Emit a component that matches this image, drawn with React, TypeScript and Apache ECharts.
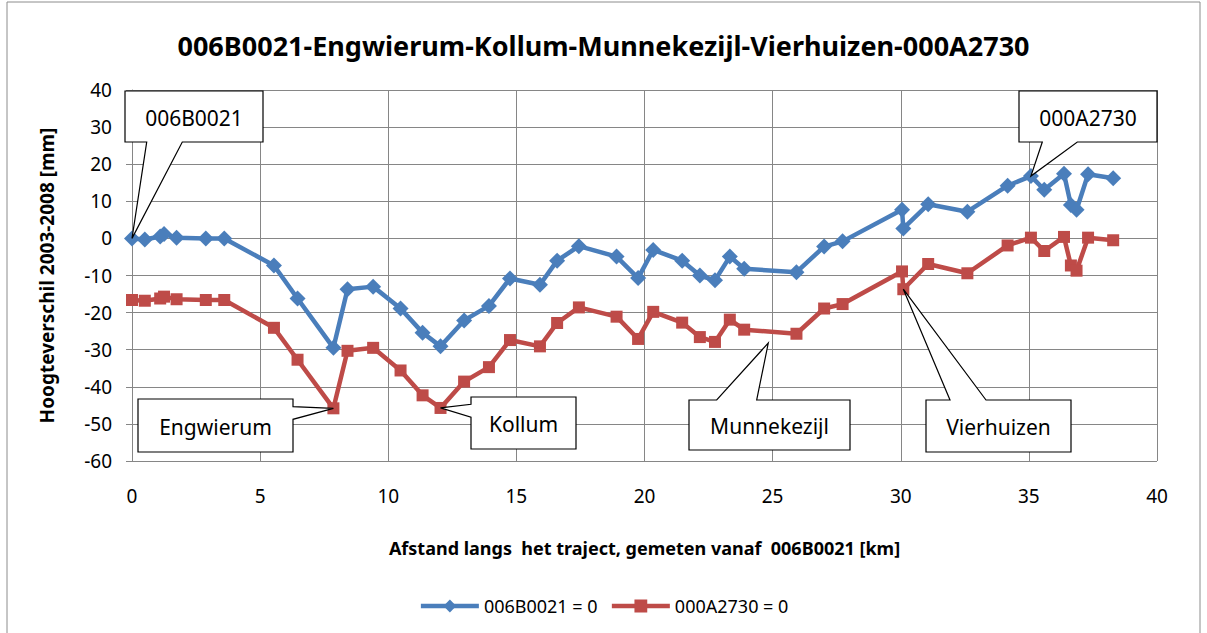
import React, { useEffect, useRef } from "react";
import * as echarts from "echarts";

// Distance along the route [km]
const distanceKm = [
  0, 0.5, 1.1, 1.25, 1.74, 2.88, 3.6, 5.54, 6.46, 7.86, 8.41, 9.41, 10.48, 11.34,
  12.04, 12.96, 13.93, 14.75, 15.92, 16.59, 17.44, 18.91, 19.75, 20.34, 21.47,
  22.16, 22.75, 23.33, 23.89, 25.93, 27.01, 27.73, 30.05, 30.1, 31.07, 32.6,
  34.17, 35.08, 35.6, 36.37, 36.64, 36.86, 37.31, 38.29,
];

// Height difference 2003-2008 [mm], referenced to 006B0021 = 0
const values006B0021 = [
  0, -0.3, 0.5, 1.2, 0.2, 0, 0, -7.3, -16.2, -29.5, -13.7, -13, -18.9, -25.4,
  -29.1, -22.1, -18.2, -10.8, -12.5, -6, -2.1, -4.9, -10.7, -3.1, -6, -10,
  -11.3, -4.9, -8.2, -9.1, -2.2, -0.8, 7.7, 2.7, 9.2, 7.2, 14.2, 16.8, 13.1,
  17.4, 9, 7.7, 17.3, 16.2,
];

// Height difference 2003-2008 [mm], referenced to 000A2730 = 0
const values000A2730 = [
  -16.6, -16.8, -16.2, -15.7, -16.4, -16.6, -16.6, -24.1, -32.7, -45.8, -30.3,
  -29.5, -35.6, -42.3, -45.7, -38.6, -34.7, -27.4, -29.1, -22.8, -18.6, -21.1,
  -27.1, -19.8, -22.7, -26.6, -27.9, -21.9, -24.6, -25.7, -18.9, -17.7, -8.9,
  -13.7, -6.9, -9.4, -1.9, 0.2, -3.4, 0.4, -7.3, -8.7, 0.2, -0.5,
];

const seriesNames = ["006B0021 = 0", "000A2730 = 0"];
const titleText = "006B0021-Engwierum-Kollum-Munnekezijl-Vierhuizen-000A2730";
const xAxisName = "Afstand langs  het traject, gemeten vanaf  006B0021 [km]";
const yAxisName = "Hoogteverschil 2003-2008 [mm]";

// Callout labels: text, anchor point (data coords), box and pointer side
const callouts = [
  { text: "006B0021", at: [0, 0], box: [125, 91, 138, 51], side: "bottom", base: [182.3, 146.7] },
  { text: "Engwierum", at: [7.86, -45.8], box: [138, 399, 155, 53], side: "right", base: [406.7, 419.3] },
  { text: "Kollum", at: [12.04, -45.7], box: [471, 397, 105, 52], side: "left", base: [417.3, 404.3] },
  { text: "Munnekezijl", at: [24.83, -28.2], box: [689, 400, 161, 50], side: "top", base: [716.7, 756.7] },
  { text: "Vierhuizen", at: [30.1, -13.7], box: [926, 400, 145, 52], side: "top", base: [950, 986] },
  { text: "000A2730", at: [35.08, 16.8], box: [1019, 91, 138, 51], side: "bottom", base: [1077.3, 1042.3] },
];

const FONT = "'Noto Sans', 'Open Sans', sans-serif";
const BLUE = "#4a7ebb";
const RED = "#be4b48";
const GRID = "#868686";

export default function App() {
  const ref = useRef<HTMLDivElement>(null);

  useEffect(() => {
    const chart = echarts.init(ref.current!, null, { renderer: "svg" });
    const blue = distanceKm.map((x, i) => [x, values006B0021[i]]);
    const red = distanceKm.map((x, i) => [x, values000A2730[i]]);

    chart.setOption({
      animation: false,
      backgroundColor: "#ffffff",
      textStyle: { fontFamily: FONT },
      title: {
        text: titleText,
        left: "center",
        top: 27,
        textStyle: { fontFamily: FONT, fontSize: 27, fontWeight: "bold", color: "#000" },
      },
      grid: { left: 132, right: 50, top: 90, bottom: 172, containLabel: false },
      legend: {
        top: 592,
        left: "center",
        itemWidth: 58,
        itemHeight: 16,
        itemGap: 12,
        lineStyle: { width: 4.5 },
        textStyle: { fontFamily: FONT, fontSize: 18, color: "#000" },
        data: seriesNames,
      },
      xAxis: {
        type: "value",
        min: 0,
        max: 40,
        interval: 5,
        name: xAxisName,
        nameLocation: "middle",
        nameGap: 78,
        nameTextStyle: { fontFamily: FONT, fontSize: 18, fontWeight: "bold", color: "#000" },
        axisLine: { show: true, lineStyle: { color: GRID, width: 1 } },
        axisTick: { show: true, length: 5, inside: false, lineStyle: { color: GRID } },
        axisLabel: { margin: 25, fontFamily: FONT, fontSize: 19, color: "#000" },
        splitLine: { show: true, lineStyle: { color: GRID, width: 1 } },
      },
      yAxis: {
        type: "value",
        min: -60,
        max: 40,
        interval: 10,
        name: yAxisName,
        nameLocation: "middle",
        nameGap: 76,
        nameRotate: 90,
        nameTextStyle: { fontFamily: FONT, fontSize: 19, fontWeight: "bold", color: "#000" },
        axisLine: { show: true, lineStyle: { color: GRID, width: 1 } },
        axisTick: { show: true, length: 6, inside: false, lineStyle: { color: GRID } },
        axisLabel: { margin: 20, fontFamily: FONT, fontSize: 19, color: "#000" },
        splitLine: { show: true, lineStyle: { color: GRID, width: 1 } },
      },
      series: [
        {
          name: seriesNames[0],
          type: "line",
          data: blue,
          symbol: "diamond",
          symbolSize: 16,
          lineStyle: { color: BLUE, width: 4.5 },
          itemStyle: { color: BLUE },
          z: 3,
        },
        {
          name: seriesNames[1],
          type: "line",
          data: red,
          symbol: "rect",
          symbolSize: 12,
          lineStyle: { color: RED, width: 4.5 },
          itemStyle: { color: RED },
          z: 3,
        },
      ],
    });

    const elements: any[] = [
      {
        type: "rect",
        id: "border",
        shape: { x: 7, y: 2, width: 1193, height: 660 },
        style: { fill: "none", stroke: "#8c8c8c", lineWidth: 1 },
        silent: true,
        z: 0,
      },
    ];

    callouts.forEach((c, i) => {
      const tip = chart.convertToPixel({ gridIndex: 0 }, c.at) as number[];
      const [bx, by, bw, bh] = c.box;
      const r = bx + bw;
      const b = by + bh;
      const pts: number[][] = [];
      pts.push([bx, by]);
      if (c.side === "top") pts.push([c.base[0], by], tip, [c.base[1], by]);
      pts.push([r, by]);
      if (c.side === "right") pts.push([r, c.base[0]], tip, [r, c.base[1]]);
      pts.push([r, b]);
      if (c.side === "bottom") pts.push([c.base[0], b], tip, [c.base[1], b]);
      pts.push([bx, b]);
      if (c.side === "left") pts.push([bx, c.base[0]], tip, [bx, c.base[1]]);
      elements.push({
        type: "polygon",
        id: "callout" + i,
        shape: { points: pts },
        style: { fill: "#ffffff", stroke: "#000000", lineWidth: 1.2 },
        z: 10,
      });
      elements.push({
        type: "text",
        id: "calloutText" + i,
        x: bx + bw / 2,
        y: by + bh / 2 + 1,
        style: {
          text: c.text,
          fontFamily: FONT,
          fontSize: 21,
          fill: "#000",
          align: "center",
          verticalAlign: "middle",
        },
        z: 11,
      });
    });

    chart.setOption({ graphic: elements });

    return () => chart.dispose();
  }, []);

  return (
    <div
      ref={ref}
      style={{ position: "absolute", left: 0, top: 0, width: 1207, height: 633 }}
    />
  );
}
